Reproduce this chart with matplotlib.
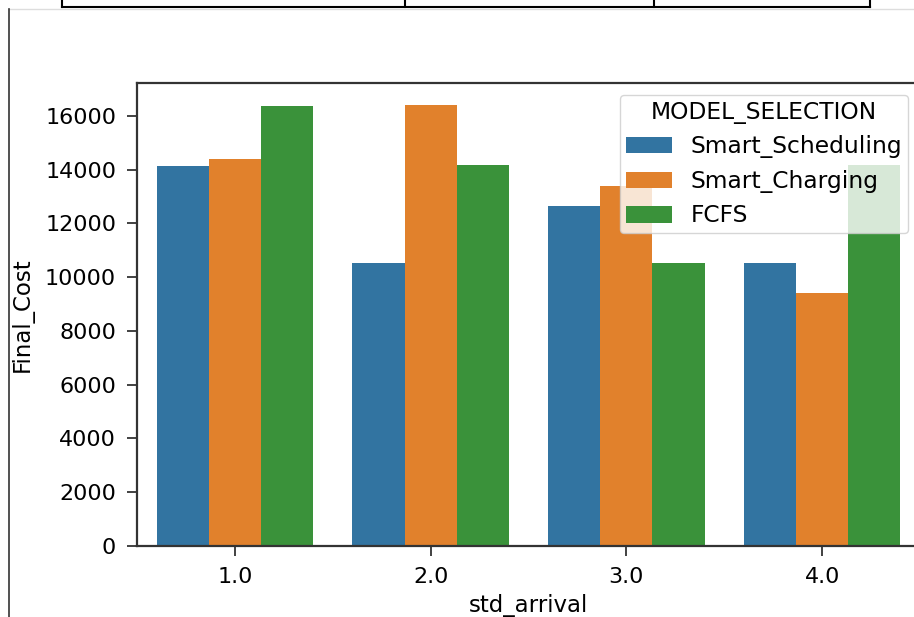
import numpy as np
import matplotlib.pyplot as plt
from matplotlib.lines import Line2D

# data
std_arrival = ['1.0', '2.0', '3.0', '4.0']
models = ['Smart_Scheduling', 'Smart_Charging', 'FCFS']
smart_scheduling = [14150, 10530, 12640, 10530]
smart_charging = [14400, 16400, 13380, 9420]
fcfs = [16380, 14160, 10530, 14160]

# seaborn default palette, desaturated like barplot does
colors = ['#3274a1', '#e1812c', '#3a923a']

W, H = 914, 617
plt.rcParams['font.family'] = 'DejaVu Sans'
plt.rcParams['font.size'] = 16

fig = plt.figure(figsize=(W / 100, H / 100), dpi=100)
ax = fig.add_axes([137 / W, (H - 546) / H, (920 - 137) / W, (546 - 83) / H])

x = np.arange(len(std_arrival))
width = 0.8 / len(models)
series = [smart_scheduling, smart_charging, fcfs]
for i, (name, vals) in enumerate(zip(models, series)):
    ax.bar(x + (i - 1) * width, vals, width, color=colors[i], label=name, linewidth=0)

ax.set_xlim(-0.5, len(std_arrival) - 0.5)
ax.set_ylim(0, max(max(s) for s in series) * 1.05)
ax.set_xticks(x)
ax.set_xticklabels(std_arrival)
ax.set_yticks(np.arange(0, 16001, 2000))
ax.set_xlabel('std_arrival', fontsize=16.5, labelpad=5)
ax.set_ylabel('Final_Cost', fontsize=16.5, labelpad=8)
ax.tick_params(labelsize=16, length=7, width=1.3, pad=8, color='#333333')
for sp in ax.spines.values():
    sp.set_linewidth(1.6)
    sp.set_color('#333333')

leg = ax.legend(title='MODEL_SELECTION', loc='upper right', fontsize=16.8,
                title_fontsize=16.8, framealpha=0.8, borderpad=0.25)

# bits of the notebook page around the plot
def px_line(xs, ys, **kw):
    fig.add_artist(Line2D([v / W for v in xs], [1 - v / H for v in ys],
                          transform=fig.transFigure, **kw))

px_line([62, 870], [7, 7], color='black', lw=1.5)
for xv in [62, 405, 654, 870]:
    px_line([xv, xv], [0, 7], color='black', lw=1.5)
px_line([9, 914], [9, 9], color='#dddddd', lw=1)
px_line([9, 9], [9, 617], color='#333333', lw=1.2)

fig.savefig('out.png', dpi=100)
